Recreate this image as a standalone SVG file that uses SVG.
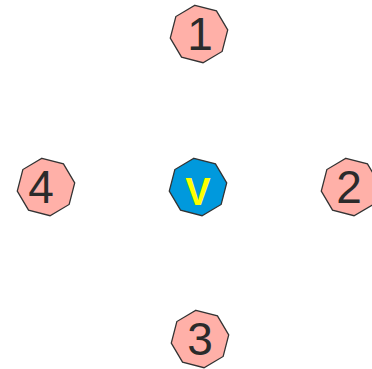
<svg xmlns="http://www.w3.org/2000/svg" xmlns:xlink="http://www.w3.org/1999/xlink" width="372" height="369" viewBox="0 0 372 369">
<defs>
<polygon id="oct" points="-4.04,-28.72 17.45,-23.16 28.72,-4.04 23.16,17.45 4.04,28.72 -17.45,23.16 -28.72,4.04 -23.16,-17.45"/>
</defs>
<style>
.n use{fill:#ffb0a8;stroke:#333;stroke-width:1.3}
.c use{fill:#0099dd;stroke:#333;stroke-width:1.3}
text{font-family:"Liberation Sans",Arial,sans-serif;text-anchor:middle}
.n text{font-size:46px;fill:#2b2b2b}
.c text{font-size:38px;fill:#ffff00;font-weight:bold}
</style>
<rect width="372" height="369" fill="#fff"/>
<g id="connectors"></g>
<g id="node-v" class="c"><use xlink:href="#oct" href="#oct" x="198" y="187"/><text x="198" y="205">V</text></g>
<g id="node-1" class="n"><use xlink:href="#oct" href="#oct" x="199" y="34"/><text x="200" y="50">1</text></g>
<g id="node-2" class="n"><use xlink:href="#oct" href="#oct" x="350" y="187"/><text x="349" y="203">2</text></g>
<g id="node-3" class="n"><use xlink:href="#oct" href="#oct" x="200" y="339"/><text x="200" y="355">3</text></g>
<g id="node-4" class="n"><use xlink:href="#oct" href="#oct" x="46" y="187"/><text x="41" y="203">4</text></g>
</svg>
